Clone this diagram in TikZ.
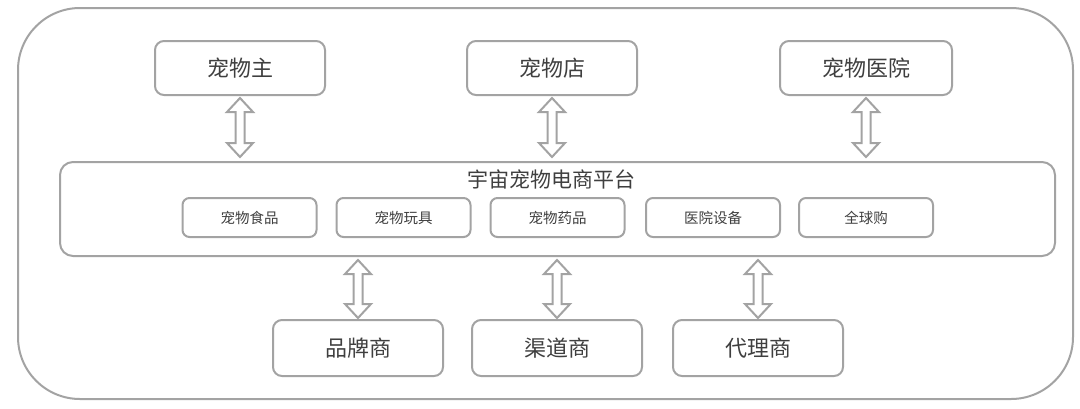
\documentclass[tikz,border=0pt]{standalone}
\usepackage{fontspec}
\newfontfamily\cjk{Noto Sans CJK SC}
\usetikzlibrary{calc}
\definecolor{lc}{HTML}{A3A3A3}
\definecolor{tc}{HTML}{3F3F3F}
\tikzset{
  bigbox/.style={draw=lc, line width=2pt, rounded corners=9pt, minimum width=170pt, minimum height=54pt, text=tc, font=\cjk\fontsize{22}{26}\selectfont, inner sep=0pt},
  smallbox/.style={draw=lc, line width=2pt, rounded corners=7pt, minimum width=134pt, minimum height=39pt, text=tc, font=\cjk\fontsize{14.5}{17}\selectfont, inner sep=0pt},
  platbox/.style={draw=lc, line width=2pt, rounded corners=13pt, minimum width=995pt, minimum height=94pt, inner sep=0pt},
  dblarr/.style={draw=lc, line width=2pt, fill=white, line join=miter},
}
\newcommand{\myudarrow}[2]{%
  \path[dblarr] let \p1=(#1), \p2=(#2) in
    (\x1,\y1) -- (\x1+13pt,\y1-14pt) -- (\x1+4.5pt,\y1-14pt) -- (\x1+4.5pt,\y2+14pt)
    -- (\x1+13pt,\y2+14pt) -- (\x1,\y2) -- (\x1-13pt,\y2+14pt) -- (\x1-4.5pt,\y2+14pt)
    -- (\x1-4.5pt,\y1-14pt) -- (\x1-13pt,\y1-14pt) -- cycle;}
\begin{document}
\begin{tikzpicture}[x=1pt,y=-1pt]
\useasboundingbox (0,0) rectangle (1080,408);
\draw[draw=lc, line width=2pt, rounded corners=62pt] (18,8) rectangle (1073,399);

\node[bigbox] (owner) at (240,68) {宠物主};
\node[bigbox] (shop) at (552,68) {宠物店};
\node[bigbox, minimum width=172pt] (hosp) at (866,68) {宠物医院};

\node[platbox] (plat) at (557.5,209) {};
\node[text=tc, font=\cjk\fontsize{21}{24}\selectfont, inner sep=0pt] (title) at (551.5,179) {宇宙宠物电商平台};

\node[smallbox] (food) at (249.5,217.5) {宠物食品};
\node[smallbox] (toy) at (403.5,217.5) {宠物玩具};
\node[smallbox] (med) at (557.5,217.5) {宠物药品};
\node[smallbox] (equip) at (713,217.5) {医院设备};
\node[smallbox] (global) at (866,217.5) {全球购};

\node[bigbox, minimum height=56pt] (brand) at (358,348) {品牌商};
\node[bigbox, minimum height=56pt] (chan) at (557,348) {渠道商};
\node[bigbox, minimum height=56pt] (agent) at (758,348) {代理商};

\coordinate (p1) at (owner.south |- plat.north);
\coordinate (p2) at (shop.south |- plat.north);
\coordinate (p3) at (hosp.south |- plat.north);
\myudarrow{$(owner.south)+(0,2)$}{$(p1)+(0,-4)$}
\myudarrow{$(shop.south)+(0,2)$}{$(p2)+(0,-4)$}
\myudarrow{$(hosp.south)+(0,2)$}{$(p3)+(0,-4)$}

\coordinate (q1) at (brand.north |- plat.south);
\coordinate (q2) at (chan.north |- plat.south);
\coordinate (q3) at (agent.north |- plat.south);
\myudarrow{$(q1)+(0,3)$}{$(brand.north)+(0,-1)$}
\myudarrow{$(q2)+(0,3)$}{$(chan.north)+(0,-1)$}
\myudarrow{$(q3)+(0,3)$}{$(agent.north)+(0,-1)$}
\end{tikzpicture}
\end{document}
